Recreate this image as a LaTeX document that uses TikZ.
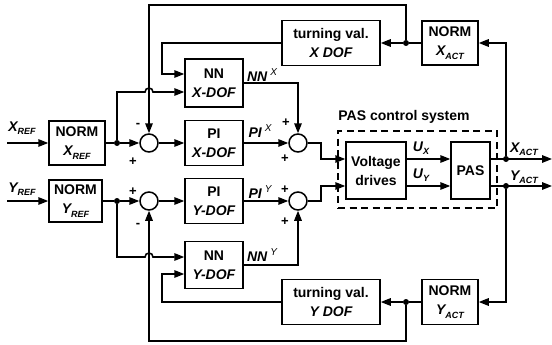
\documentclass[tikz,border=0pt]{standalone}
\usepackage{fontspec}
\setmainfont{Liberation Sans}
\usetikzlibrary{arrows.meta}
\newcommand\subt[1]{\raisebox{-0.45ex}{\fontsize{9}{9}\selectfont\bfseries\itshape #1}}
\newcommand\supt[1]{\hspace{3pt}\raisebox{0.8ex}{\fontsize{10}{10}\selectfont\mdseries\itshape #1}}
\begin{document}
\begin{tikzpicture}[x=1pt,y=-1pt,
  every node/.style={font=\fontsize{14}{19}\selectfont\bfseries},
  blk/.style={draw,line width=1.5pt,inner sep=0pt,align=center},
  wire/.style={line width=1.6pt},
  arr/.style={wire,-{Triangle[length=10pt,width=7.5pt]}},
  dot/.style={circle,fill,inner sep=0pt,minimum size=6pt},
  sum/.style={circle,draw,line width=1.5pt,minimum size=18pt,inner sep=0pt},
  lbl/.style={inner sep=0pt},
  sgn/.style={inner sep=0pt,font=\fontsize{13}{13}\selectfont\bfseries}]
\useasboundingbox (0,0) rectangle (552,345);
\coordinate (ytop) at (0,5);
\coordinate (ybot) at (0,341);
% ---------- X row ----------
\node[lbl] (xreflbl) at (22,128) {\itshape X\subt{REF}};
\coordinate (xin) at (7,143);
\node[blk,minimum width=56pt,minimum height=44pt] (nxr) at (77,143) {NORM\\{\itshape X\subt{REF}}};
\node[dot] (jx) at (117,143) {};
\node[sum] (s1x) at (149,143) {};
\node[sgn] (mx) at (138,125) {-};
\node[sgn] (px) at (133,162) {+};
\node[blk,minimum width=58pt,minimum height=45pt] (pix) at (214,143) {PI\\{\itshape X-DOF}};
\node[blk,minimum width=58pt,minimum height=48pt] (nnx) at (214,83) {NN\\{\itshape X-DOF}};
\node[lbl] (pixl) at (260,131) {\itshape PI\supt{X}};
\node[lbl] (nnxl) at (262,75) {\itshape NN\supt{X}};
\node[sum] (s2x) at (298,143) {};
\node[sgn] (p2xa) at (286,123) {+};
\node[sgn] (p2xb) at (285,159) {+};
\node[blk,minimum width=98pt,minimum height=45pt] (tvx) at (331,43) {turning val.\\{\itshape X DOF}};
\node[blk,minimum width=56pt,minimum height=44pt] (nxa) at (450,43) {NORM\\{\itshape X\subt{ACT}}};
\node[dot] (dxa) at (406,43) {};
% ---------- Y row ----------
\node[lbl] (yreflbl) at (22,189) {\itshape Y\subt{REF}};
\coordinate (yin) at (7,201);
\node[blk,minimum width=53pt,minimum height=42pt] (nyr) at (75.5,201) {NORM\\{\itshape Y\subt{REF}}};
\node[dot] (jy) at (117,201) {};
\node[sum] (s1y) at (149,201) {};
\node[sgn] (py) at (133,192) {+};
\node[sgn] (my) at (138,225) {-};
\node[blk,minimum width=58pt,minimum height=45pt] (piy) at (214,201) {PI\\{\itshape Y-DOF}};
\node[blk,minimum width=58pt,minimum height=47pt] (nny) at (214,265) {NN\\{\itshape Y-DOF}};
\node[lbl] (piyl) at (260,192) {\itshape PI\supt{Y}};
\node[lbl] (nnyl) at (262,255) {\itshape NN\supt{Y}};
\node[sum] (s2y) at (298,201) {};
\node[sgn] (p2ya) at (285,190) {+};
\node[sgn] (p2yb) at (285,222) {+};
\node[blk,minimum width=98pt,minimum height=45pt] (tvy) at (331,302) {turning val.\\{\itshape Y DOF}};
\node[blk,minimum width=56pt,minimum height=45pt] (nya) at (450,302) {NORM\\{\itshape Y\subt{ACT}}};
\node[dot] (dya) at (406,302) {};
% ---------- PAS control system ----------
\node[draw,dashed,dash pattern=on 7pt off 4.5pt,line width=1.4pt,minimum width=159pt,minimum height=77pt,inner sep=0pt] (pcs) at (417.5,169.5) {};
\node[lbl] (pcsl) at (404,117) {PAS control system};
\node[blk,minimum width=60pt,minimum height=57pt] (vd) at (376,170.5) {Voltage\\drives};
\node[blk,minimum width=39pt,minimum height=57pt] (pas) at (470.5,170.5) {PAS};
\coordinate (vx) at (321,159);
\coordinate (vy) at (321,186);
\node[lbl] (uxl) at (421,148) {\itshape U\subt{X}};
\node[lbl] (uyl) at (421,175) {\itshape U\subt{Y}};
\node[dot] (dxo) at (506,159) {};
\node[dot] (dyo) at (506,186) {};
\coordinate (xout) at (552,159);
\coordinate (yout) at (552,186);
\node[lbl] (xactl) at (524,149) {\itshape X\subt{ACT}};
\node[lbl] (yactl) at (524,177) {\itshape Y\subt{ACT}};
\coordinate (cx) at (162,74);
\coordinate (cy) at (162,274);
\coordinate (hx) at (149,92);
\coordinate (hy) at (149,257);
% ---------- connectors X ----------
\draw[arr] (xin) -- (nxr.west);
\draw[wire] (nxr.east) -- (jx);
\draw[arr] (jx) -- (s1x.west);
\draw[arr] (s1x.east) -- (pix.west);
\draw[arr] (pix.east) -- (s2x.west);
\draw[arr] (jx) |- ([xshift=-4pt]hx) arc[start angle=180,end angle=0,radius=4pt] -- (nnx.west |- hx);
\draw[arr] (tvx.west) -| (cx) -- (nnx.west |- cx);
\draw[arr] (nnx.east) -| (s2x.north);
\draw[arr] (dxa) -- (dxa |- ytop) -- (s1x.north |- ytop) -- (s1x.north);
\draw[wire] (nxa.west) -- (dxa);
\draw[arr] (dxa) -- (tvx.east);
\draw[arr] (s2x.east) -| (vx) -- (vd.west |- vx);
\draw[arr] (vd.east |- vx) -- (pas.west |- vx);
\draw[arr] (pas.east |- vx) -- (xout);
\draw[arr] (dxo) |- (nxa.east);
% ---------- connectors Y ----------
\draw[arr] (yin) -- (nyr.west);
\draw[wire] (nyr.east) -- (jy);
\draw[arr] (jy) -- (s1y.west);
\draw[arr] (s1y.east) -- (piy.west);
\draw[arr] (piy.east) -- (s2y.west);
\draw[arr] (jy) |- ([xshift=-4pt]hy) arc[start angle=180,end angle=0,radius=4pt] -- (nny.west |- hy);
\draw[arr] (tvy.west) -| (cy) -- (nny.west |- cy);
\draw[arr] (nny.east) -| (s2y.south);
\draw[arr] (dya) -- (dya |- ybot) -- (s1y.south |- ybot) -- (s1y.south);
\draw[wire] (nya.west) -- (dya);
\draw[arr] (dya) -- (tvy.east);
\draw[arr] (s2y.east) -| (vy) -- (vd.west |- vy);
\draw[arr] (vd.east |- vy) -- (pas.west |- vy);
\draw[arr] (pas.east |- vy) -- (yout);
\draw[arr] (dyo) |- (nya.east);
\end{tikzpicture}
\end{document}
